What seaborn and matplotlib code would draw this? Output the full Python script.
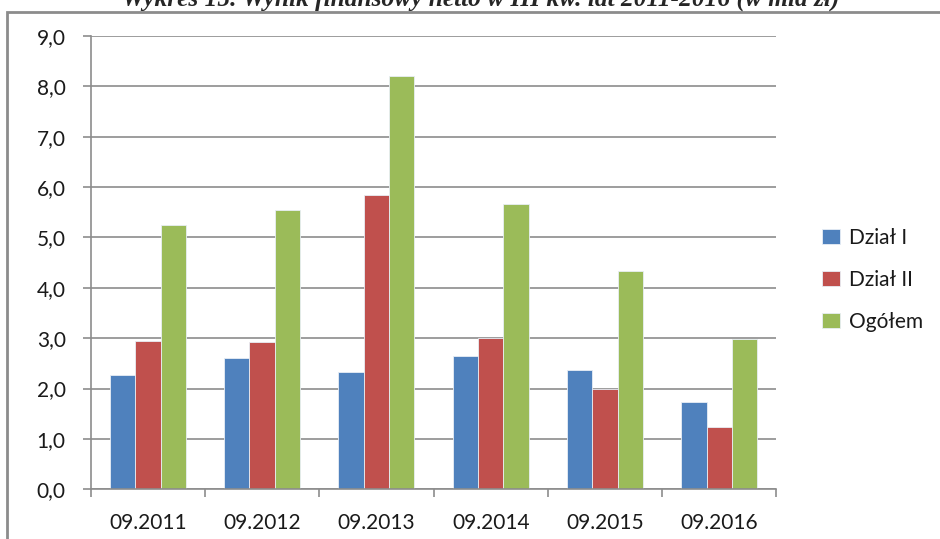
import matplotlib
matplotlib.use("Agg")
import matplotlib.pyplot as plt
import seaborn as sns
import pandas as pd
from matplotlib.patches import Rectangle
from matplotlib.ticker import FuncFormatter, MultipleLocator

periods = ["09.2011", "09.2012", "09.2013", "09.2014", "09.2015", "09.2016"]
dzial_1 = [2.27, 2.61, 2.32, 2.65, 2.36, 1.73]
dzial_2 = [2.95, 2.92, 5.84, 3.00, 1.99, 1.24]
ogolem = [5.24, 5.55, 8.20, 5.67, 4.34, 2.99]
series_names = ["Dział I", "Dział II", "Ogółem"]
title = "Wykres 15. Wynik finansowy netto w III kw. lat 2011-2016 (w mld zł)"

df = pd.DataFrame({
    "okres": periods * 3,
    "wartosc": dzial_1 + dzial_2 + ogolem,
    "seria": [series_names[0]] * 6 + [series_names[1]] * 6 + [series_names[2]] * 6,
})

sns.set_theme(style="white")
plt.rcParams["font.family"] = ["Lato", "DejaVu Sans"]

colors = ["#4F81BD", "#C0504D", "#9BBB59"]

fig = plt.figure(figsize=(9.4, 5.39), dpi=100)
ax = fig.add_axes([0.0965, 0.0922, 0.7295, 0.841])

sns.barplot(data=df, x="okres", y="wartosc", hue="seria", palette=colors,
            width=0.665, ax=ax, edgecolor="#E8EEF5", linewidth=0.6,
            saturation=1, legend=True)

ax.set_xlim(-0.5, 5.5)
ax.set_ylim(0, 9)
ax.yaxis.set_major_locator(MultipleLocator(1))
ax.yaxis.set_major_formatter(FuncFormatter(lambda v, p: f"{v:.1f}".replace(".", ",")))
ax.grid(axis="y", color="#8C8C8C", linewidth=1.2)
ax.set_axisbelow(True)
ax.set_xlabel("")
ax.set_ylabel("")

for s in ["top", "right"]:
    ax.spines[s].set_visible(False)
for s in ["left", "bottom"]:
    ax.spines[s].set_color("#8C8C8C")
    ax.spines[s].set_linewidth(1.2)

ax.tick_params(axis="y", which="major", left=True, length=6, width=1.2,
               color="#8C8C8C", labelsize=15, labelcolor="#1a1a1a", pad=12)
ax.set_xticks(range(len(periods)))
ax.set_xticklabels(periods)
ax.tick_params(axis="x", which="major", bottom=False, labelsize=15,
               labelcolor="#1a1a1a", pad=11)
ax.set_xticks([i - 0.5 for i in range(len(periods) + 1)], minor=True)
ax.tick_params(axis="x", which="minor", bottom=True, length=6, width=1.2,
               color="#8C8C8C")

leg = ax.legend(loc="center left", bbox_to_anchor=(1.03, 0.462), frameon=False,
                fontsize=15, handlelength=0.85, handleheight=0.75,
                labelspacing=1.05, handletextpad=0.45, borderaxespad=0.8)
for t in leg.get_texts():
    t.set_color("#1a1a1a")

# outer frame
fig.patches.append(Rectangle((7 / 940, -0.1), 1.2, 1 - 12 / 539 + 0.1,
                             transform=fig.transFigure, fill=False,
                             edgecolor="#8C8C8C", linewidth=2, zorder=0))

fig.text(0.511, 1 - 6 / 539, title, ha="center", va="baseline",
         fontsize=18.3, fontweight="bold", fontstyle="italic",
         family=["Liberation Serif", "DejaVu Serif"])

fig.savefig("out.png", dpi=100)
